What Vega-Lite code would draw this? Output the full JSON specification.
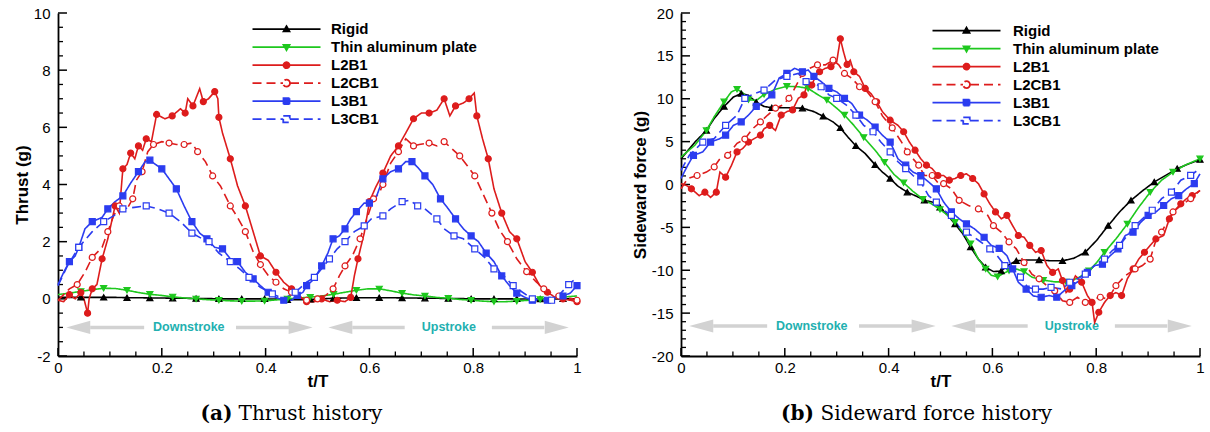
{
 "$schema": "https://vega.github.io/schema/vega-lite/v6.json",
 "background": "white",
 "padding": {"left": 13, "top": 6, "right": 0, "bottom": 0},
 "spacing": 104,
 "bounds": "flush",
 "datasets": {
  "thrust": [
   {"s":"Rigid","t":0,"v":0.05},{"s":"Rigid","t":0.022,"v":0.05},{"s":"Rigid","t":0.044,"v":0.05},{"s":"Rigid","t":0.066,"v":0.05},{"s":"Rigid","t":0.088,"v":0.05},{"s":"Rigid","t":0.111,"v":0.05},{"s":"Rigid","t":0.133,"v":0.04},{"s":"Rigid","t":0.155,"v":0.04},{"s":"Rigid","t":0.177,"v":0.03},{"s":"Rigid","t":0.199,"v":0.03},{"s":"Rigid","t":0.221,"v":0.02},{"s":"Rigid","t":0.244,"v":0.02},{"s":"Rigid","t":0.266,"v":0.01},{"s":"Rigid","t":0.288,"v":0.01},{"s":"Rigid","t":0.31,"v":0},{"s":"Rigid","t":0.332,"v":0},{"s":"Rigid","t":0.354,"v":0},{"s":"Rigid","t":0.376,"v":0},{"s":"Rigid","t":0.398,"v":0},{"s":"Rigid","t":0.42,"v":-0.01},{"s":"Rigid","t":0.442,"v":-0.03},{"s":"Rigid","t":0.464,"v":-0.03},{"s":"Rigid","t":0.486,"v":-0.02},{"s":"Rigid","t":0.508,"v":0},{"s":"Rigid","t":0.531,"v":0.02},{"s":"Rigid","t":0.553,"v":0.03},{"s":"Rigid","t":0.575,"v":0.04},{"s":"Rigid","t":0.597,"v":0.04},{"s":"Rigid","t":0.619,"v":0.04},{"s":"Rigid","t":0.641,"v":0.04},{"s":"Rigid","t":0.663,"v":0.03},{"s":"Rigid","t":0.685,"v":0.03},{"s":"Rigid","t":0.707,"v":0.02},{"s":"Rigid","t":0.729,"v":0.02},{"s":"Rigid","t":0.752,"v":0.01},{"s":"Rigid","t":0.774,"v":0.01},{"s":"Rigid","t":0.796,"v":0},{"s":"Rigid","t":0.818,"v":0},{"s":"Rigid","t":0.84,"v":0},{"s":"Rigid","t":0.862,"v":0},{"s":"Rigid","t":0.884,"v":0},{"s":"Rigid","t":0.906,"v":-0.01},{"s":"Rigid","t":0.929,"v":-0.01},{"s":"Rigid","t":0.951,"v":0},{"s":"Rigid","t":0.973,"v":0},{"s":"Rigid","t":1,"v":0},
   {"s":"Thin aluminum plate","t":0,"v":0.15},{"s":"Thin aluminum plate","t":0.022,"v":0.2},{"s":"Thin aluminum plate","t":0.044,"v":0.26},{"s":"Thin aluminum plate","t":0.066,"v":0.32},{"s":"Thin aluminum plate","t":0.088,"v":0.37},{"s":"Thin aluminum plate","t":0.111,"v":0.36},{"s":"Thin aluminum plate","t":0.133,"v":0.3},{"s":"Thin aluminum plate","t":0.155,"v":0.22},{"s":"Thin aluminum plate","t":0.177,"v":0.16},{"s":"Thin aluminum plate","t":0.199,"v":0.12},{"s":"Thin aluminum plate","t":0.221,"v":0.07},{"s":"Thin aluminum plate","t":0.244,"v":0.03},{"s":"Thin aluminum plate","t":0.266,"v":0},{"s":"Thin aluminum plate","t":0.288,"v":-0.03},{"s":"Thin aluminum plate","t":0.31,"v":-0.05},{"s":"Thin aluminum plate","t":0.332,"v":-0.07},{"s":"Thin aluminum plate","t":0.354,"v":-0.08},{"s":"Thin aluminum plate","t":0.376,"v":-0.08},{"s":"Thin aluminum plate","t":0.398,"v":-0.07},{"s":"Thin aluminum plate","t":0.42,"v":-0.04},{"s":"Thin aluminum plate","t":0.442,"v":0},{"s":"Thin aluminum plate","t":0.464,"v":0.03},{"s":"Thin aluminum plate","t":0.486,"v":0.06},{"s":"Thin aluminum plate","t":0.508,"v":0.1},{"s":"Thin aluminum plate","t":0.531,"v":0.16},{"s":"Thin aluminum plate","t":0.553,"v":0.23},{"s":"Thin aluminum plate","t":0.575,"v":0.3},{"s":"Thin aluminum plate","t":0.597,"v":0.35},{"s":"Thin aluminum plate","t":0.619,"v":0.35},{"s":"Thin aluminum plate","t":0.641,"v":0.28},{"s":"Thin aluminum plate","t":0.663,"v":0.2},{"s":"Thin aluminum plate","t":0.685,"v":0.14},{"s":"Thin aluminum plate","t":0.707,"v":0.1},{"s":"Thin aluminum plate","t":0.729,"v":0.05},{"s":"Thin aluminum plate","t":0.752,"v":0.02},{"s":"Thin aluminum plate","t":0.774,"v":-0.02},{"s":"Thin aluminum plate","t":0.796,"v":-0.05},{"s":"Thin aluminum plate","t":0.818,"v":-0.08},{"s":"Thin aluminum plate","t":0.84,"v":-0.1},{"s":"Thin aluminum plate","t":0.862,"v":-0.1},{"s":"Thin aluminum plate","t":0.884,"v":-0.08},{"s":"Thin aluminum plate","t":0.906,"v":-0.05},{"s":"Thin aluminum plate","t":0.929,"v":-0.02},{"s":"Thin aluminum plate","t":0.951,"v":0.02},{"s":"Thin aluminum plate","t":0.973,"v":0.06},{"s":"Thin aluminum plate","t":1,"v":0.1},
   {"s":"L2B1","t":0,"v":-0.05},{"s":"L2B1","t":0.011,"v":-0.1},{"s":"L2B1","t":0.022,"v":0.15},{"s":"L2B1","t":0.033,"v":0},{"s":"L2B1","t":0.044,"v":0.22},{"s":"L2B1","t":0.05,"v":0},{"s":"L2B1","t":0.057,"v":-0.5},{"s":"L2B1","t":0.06,"v":0},{"s":"L2B1","t":0.066,"v":0.35},{"s":"L2B1","t":0.075,"v":0.5},{"s":"L2B1","t":0.085,"v":1.4},{"s":"L2B1","t":0.096,"v":2.1},{"s":"L2B1","t":0.11,"v":3.25},{"s":"L2B1","t":0.118,"v":3.0},{"s":"L2B1","t":0.125,"v":4.55},{"s":"L2B1","t":0.133,"v":4.7},{"s":"L2B1","t":0.14,"v":5.1},{"s":"L2B1","t":0.148,"v":4.9},{"s":"L2B1","t":0.155,"v":5.35},{"s":"L2B1","t":0.163,"v":5.2},{"s":"L2B1","t":0.17,"v":5.6},{"s":"L2B1","t":0.18,"v":5.5},{"s":"L2B1","t":0.19,"v":6.45},{"s":"L2B1","t":0.206,"v":6.3},{"s":"L2B1","t":0.22,"v":6.4},{"s":"L2B1","t":0.236,"v":6.65},{"s":"L2B1","t":0.245,"v":6.5},{"s":"L2B1","t":0.25,"v":7.0},{"s":"L2B1","t":0.26,"v":6.75},{"s":"L2B1","t":0.273,"v":7.35},{"s":"L2B1","t":0.28,"v":6.9},{"s":"L2B1","t":0.29,"v":7.0},{"s":"L2B1","t":0.302,"v":7.25},{"s":"L2B1","t":0.308,"v":7.0},{"s":"L2B1","t":0.31,"v":6.35},{"s":"L2B1","t":0.317,"v":5.8},{"s":"L2B1","t":0.332,"v":4.9},{"s":"L2B1","t":0.346,"v":3.95},{"s":"L2B1","t":0.361,"v":3.25},{"s":"L2B1","t":0.376,"v":2.35},{"s":"L2B1","t":0.39,"v":1.5},{"s":"L2B1","t":0.405,"v":1.35},{"s":"L2B1","t":0.42,"v":0.93},{"s":"L2B1","t":0.435,"v":0.58},{"s":"L2B1","t":0.45,"v":0.35},{"s":"L2B1","t":0.464,"v":0.12},{"s":"L2B1","t":0.479,"v":-0.1},{"s":"L2B1","t":0.494,"v":-0.1},{"s":"L2B1","t":0.508,"v":0},{"s":"L2B1","t":0.523,"v":-0.1},{"s":"L2B1","t":0.538,"v":-0.05},{"s":"L2B1","t":0.553,"v":-0.1},{"s":"L2B1","t":0.564,"v":0.05},{"s":"L2B1","t":0.571,"v":0.8},{"s":"L2B1","t":0.578,"v":1.4},{"s":"L2B1","t":0.59,"v":2.3},{"s":"L2B1","t":0.6,"v":3.4},{"s":"L2B1","t":0.612,"v":3.9},{"s":"L2B1","t":0.626,"v":4.4},{"s":"L2B1","t":0.641,"v":5.0},{"s":"L2B1","t":0.656,"v":5.35},{"s":"L2B1","t":0.67,"v":5.8},{"s":"L2B1","t":0.685,"v":6.3},{"s":"L2B1","t":0.7,"v":6.5},{"s":"L2B1","t":0.715,"v":6.5},{"s":"L2B1","t":0.73,"v":6.6},{"s":"L2B1","t":0.744,"v":7.0},{"s":"L2B1","t":0.755,"v":6.4},{"s":"L2B1","t":0.766,"v":6.75},{"s":"L2B1","t":0.781,"v":6.85},{"s":"L2B1","t":0.792,"v":7.0},{"s":"L2B1","t":0.802,"v":7.2},{"s":"L2B1","t":0.807,"v":6.4},{"s":"L2B1","t":0.818,"v":5.6},{"s":"L2B1","t":0.829,"v":4.9},{"s":"L2B1","t":0.84,"v":3.85},{"s":"L2B1","t":0.855,"v":3.0},{"s":"L2B1","t":0.87,"v":2.35},{"s":"L2B1","t":0.884,"v":2.1},{"s":"L2B1","t":0.9,"v":1.3},{"s":"L2B1","t":0.914,"v":0.93},{"s":"L2B1","t":0.928,"v":0.47},{"s":"L2B1","t":0.943,"v":0.23},{"s":"L2B1","t":0.958,"v":0.05},{"s":"L2B1","t":0.973,"v":0},{"s":"L2B1","t":0.987,"v":-0.05},{"s":"L2B1","t":1,"v":-0.1},
   {"s":"L2CB1","t":0,"v":-0.05},{"s":"L2CB1","t":0.022,"v":0.35},{"s":"L2CB1","t":0.037,"v":0.5},{"s":"L2CB1","t":0.052,"v":0.93},{"s":"L2CB1","t":0.066,"v":1.45},{"s":"L2CB1","t":0.085,"v":1.8},{"s":"L2CB1","t":0.096,"v":2.35},{"s":"L2CB1","t":0.107,"v":2.9},{"s":"L2CB1","t":0.118,"v":3.25},{"s":"L2CB1","t":0.133,"v":3.15},{"s":"L2CB1","t":0.144,"v":3.5},{"s":"L2CB1","t":0.151,"v":4.15},{"s":"L2CB1","t":0.162,"v":4.45},{"s":"L2CB1","t":0.173,"v":5.15},{"s":"L2CB1","t":0.184,"v":5.4},{"s":"L2CB1","t":0.2,"v":5.5},{"s":"L2CB1","t":0.214,"v":5.45},{"s":"L2CB1","t":0.228,"v":5.4},{"s":"L2CB1","t":0.243,"v":5.4},{"s":"L2CB1","t":0.258,"v":5.45},{"s":"L2CB1","t":0.269,"v":5.15},{"s":"L2CB1","t":0.284,"v":4.8},{"s":"L2CB1","t":0.298,"v":4.3},{"s":"L2CB1","t":0.313,"v":3.95},{"s":"L2CB1","t":0.332,"v":3.25},{"s":"L2CB1","t":0.346,"v":2.85},{"s":"L2CB1","t":0.361,"v":2.35},{"s":"L2CB1","t":0.376,"v":1.65},{"s":"L2CB1","t":0.39,"v":1.2},{"s":"L2CB1","t":0.405,"v":0.82},{"s":"L2CB1","t":0.42,"v":0.58},{"s":"L2CB1","t":0.435,"v":0.35},{"s":"L2CB1","t":0.45,"v":0.23},{"s":"L2CB1","t":0.464,"v":0.05},{"s":"L2CB1","t":0.479,"v":-0.05},{"s":"L2CB1","t":0.49,"v":-0.1},{"s":"L2CB1","t":0.5,"v":0},{"s":"L2CB1","t":0.516,"v":0.12},{"s":"L2CB1","t":0.53,"v":0.35},{"s":"L2CB1","t":0.542,"v":0.8},{"s":"L2CB1","t":0.553,"v":1.15},{"s":"L2CB1","t":0.567,"v":1.5},{"s":"L2CB1","t":0.582,"v":2.1},{"s":"L2CB1","t":0.597,"v":2.9},{"s":"L2CB1","t":0.608,"v":3.5},{"s":"L2CB1","t":0.619,"v":3.7},{"s":"L2CB1","t":0.626,"v":4.0},{"s":"L2CB1","t":0.641,"v":4.75},{"s":"L2CB1","t":0.656,"v":5.15},{"s":"L2CB1","t":0.67,"v":5.6},{"s":"L2CB1","t":0.685,"v":5.35},{"s":"L2CB1","t":0.696,"v":5.4},{"s":"L2CB1","t":0.715,"v":5.45},{"s":"L2CB1","t":0.73,"v":5.35},{"s":"L2CB1","t":0.744,"v":5.5},{"s":"L2CB1","t":0.759,"v":5.25},{"s":"L2CB1","t":0.774,"v":5.0},{"s":"L2CB1","t":0.789,"v":4.65},{"s":"L2CB1","t":0.803,"v":4.3},{"s":"L2CB1","t":0.822,"v":3.55},{"s":"L2CB1","t":0.836,"v":3.0},{"s":"L2CB1","t":0.851,"v":2.4},{"s":"L2CB1","t":0.866,"v":2.0},{"s":"L2CB1","t":0.884,"v":1.4},{"s":"L2CB1","t":0.903,"v":0.95},{"s":"L2CB1","t":0.921,"v":0.6},{"s":"L2CB1","t":0.936,"v":0.35},{"s":"L2CB1","t":0.951,"v":0.2},{"s":"L2CB1","t":0.965,"v":0.1},{"s":"L2CB1","t":0.98,"v":0.05},{"s":"L2CB1","t":1,"v":-0.05},
   {"s":"L3B1","t":0,"v":0.5},{"s":"L3B1","t":0.011,"v":0.93},{"s":"L3B1","t":0.022,"v":1.3},{"s":"L3B1","t":0.033,"v":1.5},{"s":"L3B1","t":0.04,"v":1.8},{"s":"L3B1","t":0.052,"v":2.45},{"s":"L3B1","t":0.066,"v":2.7},{"s":"L3B1","t":0.085,"v":2.85},{"s":"L3B1","t":0.096,"v":3.15},{"s":"L3B1","t":0.11,"v":3.4},{"s":"L3B1","t":0.125,"v":3.6},{"s":"L3B1","t":0.14,"v":4.05},{"s":"L3B1","t":0.155,"v":4.45},{"s":"L3B1","t":0.168,"v":4.8},{"s":"L3B1","t":0.177,"v":4.85},{"s":"L3B1","t":0.188,"v":4.7},{"s":"L3B1","t":0.2,"v":4.55},{"s":"L3B1","t":0.214,"v":4.2},{"s":"L3B1","t":0.228,"v":3.85},{"s":"L3B1","t":0.243,"v":3.25},{"s":"L3B1","t":0.258,"v":2.7},{"s":"L3B1","t":0.273,"v":2.3},{"s":"L3B1","t":0.287,"v":2.1},{"s":"L3B1","t":0.302,"v":1.8},{"s":"L3B1","t":0.317,"v":1.75},{"s":"L3B1","t":0.332,"v":1.4},{"s":"L3B1","t":0.346,"v":1.3},{"s":"L3B1","t":0.361,"v":0.93},{"s":"L3B1","t":0.376,"v":0.7},{"s":"L3B1","t":0.39,"v":0.46},{"s":"L3B1","t":0.405,"v":0.23},{"s":"L3B1","t":0.42,"v":0.05},{"s":"L3B1","t":0.435,"v":-0.05},{"s":"L3B1","t":0.45,"v":-0.05},{"s":"L3B1","t":0.461,"v":0.12},{"s":"L3B1","t":0.472,"v":0.23},{"s":"L3B1","t":0.479,"v":0.46},{"s":"L3B1","t":0.494,"v":0.7},{"s":"L3B1","t":0.508,"v":1.15},{"s":"L3B1","t":0.52,"v":1.6},{"s":"L3B1","t":0.53,"v":2.1},{"s":"L3B1","t":0.542,"v":2.2},{"s":"L3B1","t":0.553,"v":2.45},{"s":"L3B1","t":0.564,"v":2.8},{"s":"L3B1","t":0.575,"v":3.05},{"s":"L3B1","t":0.59,"v":3.35},{"s":"L3B1","t":0.6,"v":3.35},{"s":"L3B1","t":0.612,"v":3.5},{"s":"L3B1","t":0.626,"v":4.2},{"s":"L3B1","t":0.641,"v":4.45},{"s":"L3B1","t":0.656,"v":4.55},{"s":"L3B1","t":0.67,"v":4.8},{"s":"L3B1","t":0.682,"v":4.8},{"s":"L3B1","t":0.693,"v":4.6},{"s":"L3B1","t":0.707,"v":4.3},{"s":"L3B1","t":0.722,"v":4.0},{"s":"L3B1","t":0.737,"v":3.5},{"s":"L3B1","t":0.752,"v":3.15},{"s":"L3B1","t":0.766,"v":2.8},{"s":"L3B1","t":0.781,"v":2.45},{"s":"L3B1","t":0.796,"v":2.2},{"s":"L3B1","t":0.81,"v":2.0},{"s":"L3B1","t":0.825,"v":1.6},{"s":"L3B1","t":0.84,"v":1.3},{"s":"L3B1","t":0.855,"v":0.8},{"s":"L3B1","t":0.87,"v":0.46},{"s":"L3B1","t":0.884,"v":0.2},{"s":"L3B1","t":0.9,"v":0.05},{"s":"L3B1","t":0.914,"v":-0.05},{"s":"L3B1","t":0.928,"v":-0.05},{"s":"L3B1","t":0.943,"v":-0.05},{"s":"L3B1","t":0.958,"v":0.05},{"s":"L3B1","t":0.973,"v":0.1},{"s":"L3B1","t":0.987,"v":0.2},{"s":"L3B1","t":1,"v":0.46},
   {"s":"L3CB1","t":0,"v":0.46},{"s":"L3CB1","t":0.018,"v":1.15},{"s":"L3CB1","t":0.04,"v":1.8},{"s":"L3CB1","t":0.066,"v":2.35},{"s":"L3CB1","t":0.088,"v":2.7},{"s":"L3CB1","t":0.107,"v":2.9},{"s":"L3CB1","t":0.125,"v":3.15},{"s":"L3CB1","t":0.147,"v":3.2},{"s":"L3CB1","t":0.17,"v":3.25},{"s":"L3CB1","t":0.192,"v":3.15},{"s":"L3CB1","t":0.214,"v":3.0},{"s":"L3CB1","t":0.236,"v":2.7},{"s":"L3CB1","t":0.258,"v":2.3},{"s":"L3CB1","t":0.273,"v":2.15},{"s":"L3CB1","t":0.291,"v":2.0},{"s":"L3CB1","t":0.31,"v":1.6},{"s":"L3CB1","t":0.332,"v":1.3},{"s":"L3CB1","t":0.35,"v":1.05},{"s":"L3CB1","t":0.368,"v":0.75},{"s":"L3CB1","t":0.39,"v":0.4},{"s":"L3CB1","t":0.413,"v":0.17},{"s":"L3CB1","t":0.435,"v":0},{"s":"L3CB1","t":0.457,"v":0.23},{"s":"L3CB1","t":0.479,"v":0.58},{"s":"L3CB1","t":0.494,"v":0.75},{"s":"L3CB1","t":0.508,"v":1.05},{"s":"L3CB1","t":0.523,"v":1.4},{"s":"L3CB1","t":0.538,"v":1.75},{"s":"L3CB1","t":0.553,"v":2.0},{"s":"L3CB1","t":0.571,"v":2.35},{"s":"L3CB1","t":0.59,"v":2.55},{"s":"L3CB1","t":0.604,"v":2.8},{"s":"L3CB1","t":0.626,"v":2.9},{"s":"L3CB1","t":0.641,"v":3.15},{"s":"L3CB1","t":0.663,"v":3.4},{"s":"L3CB1","t":0.678,"v":3.45},{"s":"L3CB1","t":0.693,"v":3.25},{"s":"L3CB1","t":0.707,"v":3.15},{"s":"L3CB1","t":0.73,"v":2.8},{"s":"L3CB1","t":0.744,"v":2.45},{"s":"L3CB1","t":0.763,"v":2.2},{"s":"L3CB1","t":0.781,"v":2.1},{"s":"L3CB1","t":0.803,"v":1.75},{"s":"L3CB1","t":0.822,"v":1.45},{"s":"L3CB1","t":0.84,"v":1.05},{"s":"L3CB1","t":0.859,"v":0.8},{"s":"L3CB1","t":0.877,"v":0.46},{"s":"L3CB1","t":0.895,"v":0.23},{"s":"L3CB1","t":0.914,"v":0},{"s":"L3CB1","t":0.936,"v":-0.05},{"s":"L3CB1","t":0.951,"v":-0.05},{"s":"L3CB1","t":0.965,"v":0.12},{"s":"L3CB1","t":0.984,"v":0.5},{"s":"L3CB1","t":1,"v":0.75}
  ],
  "side": [
   {"s":"Rigid","t":0,"v":3.0},{"s":"Rigid","t":0.027,"v":4.96},{"s":"Rigid","t":0.049,"v":6.3},{"s":"Rigid","t":0.064,"v":7.7},{"s":"Rigid","t":0.083,"v":9.1},{"s":"Rigid","t":0.101,"v":10.2},{"s":"Rigid","t":0.116,"v":10.6},{"s":"Rigid","t":0.13,"v":10.4},{"s":"Rigid","t":0.145,"v":9.6},{"s":"Rigid","t":0.16,"v":9.1},{"s":"Rigid","t":0.175,"v":8.95},{"s":"Rigid","t":0.204,"v":8.95},{"s":"Rigid","t":0.234,"v":8.9},{"s":"Rigid","t":0.256,"v":8.5},{"s":"Rigid","t":0.274,"v":7.95},{"s":"Rigid","t":0.293,"v":7.3},{"s":"Rigid","t":0.307,"v":6.6},{"s":"Rigid","t":0.322,"v":5.5},{"s":"Rigid","t":0.337,"v":4.5},{"s":"Rigid","t":0.355,"v":3.6},{"s":"Rigid","t":0.374,"v":2.3},{"s":"Rigid","t":0.388,"v":1.45},{"s":"Rigid","t":0.403,"v":0.7},{"s":"Rigid","t":0.418,"v":-0.2},{"s":"Rigid","t":0.436,"v":-0.9},{"s":"Rigid","t":0.455,"v":-1.4},{"s":"Rigid","t":0.469,"v":-1.85},{"s":"Rigid","t":0.488,"v":-2.1},{"s":"Rigid","t":0.499,"v":-2.65},{"s":"Rigid","t":0.514,"v":-3.6},{"s":"Rigid","t":0.528,"v":-4.6},{"s":"Rigid","t":0.543,"v":-5.75},{"s":"Rigid","t":0.558,"v":-7.3},{"s":"Rigid","t":0.573,"v":-8.7},{"s":"Rigid","t":0.587,"v":-9.65},{"s":"Rigid","t":0.602,"v":-10.15},{"s":"Rigid","t":0.617,"v":-10.1},{"s":"Rigid","t":0.628,"v":-9.5},{"s":"Rigid","t":0.646,"v":-8.9},{"s":"Rigid","t":0.668,"v":-8.8},{"s":"Rigid","t":0.69,"v":-8.8},{"s":"Rigid","t":0.713,"v":-8.9},{"s":"Rigid","t":0.735,"v":-8.9},{"s":"Rigid","t":0.757,"v":-8.6},{"s":"Rigid","t":0.779,"v":-7.9},{"s":"Rigid","t":0.801,"v":-6.5},{"s":"Rigid","t":0.823,"v":-4.8},{"s":"Rigid","t":0.845,"v":-3.2},{"s":"Rigid","t":0.867,"v":-1.85},{"s":"Rigid","t":0.89,"v":-0.7},{"s":"Rigid","t":0.912,"v":0.3},{"s":"Rigid","t":0.934,"v":1.07},{"s":"Rigid","t":0.956,"v":1.85},{"s":"Rigid","t":0.978,"v":2.4},{"s":"Rigid","t":1,"v":2.9},
   {"s":"Thin aluminum plate","t":0,"v":3.2},{"s":"Thin aluminum plate","t":0.027,"v":4.6},{"s":"Thin aluminum plate","t":0.049,"v":6.3},{"s":"Thin aluminum plate","t":0.064,"v":7.9},{"s":"Thin aluminum plate","t":0.083,"v":9.65},{"s":"Thin aluminum plate","t":0.097,"v":10.8},{"s":"Thin aluminum plate","t":0.108,"v":11.1},{"s":"Thin aluminum plate","t":0.119,"v":10.7},{"s":"Thin aluminum plate","t":0.13,"v":9.9},{"s":"Thin aluminum plate","t":0.145,"v":9.8},{"s":"Thin aluminum plate","t":0.16,"v":10.5},{"s":"Thin aluminum plate","t":0.182,"v":11.1},{"s":"Thin aluminum plate","t":0.204,"v":11.45},{"s":"Thin aluminum plate","t":0.226,"v":11.4},{"s":"Thin aluminum plate","t":0.245,"v":11.2},{"s":"Thin aluminum plate","t":0.263,"v":10.5},{"s":"Thin aluminum plate","t":0.281,"v":9.85},{"s":"Thin aluminum plate","t":0.3,"v":8.9},{"s":"Thin aluminum plate","t":0.315,"v":8.1},{"s":"Thin aluminum plate","t":0.333,"v":6.9},{"s":"Thin aluminum plate","t":0.352,"v":5.5},{"s":"Thin aluminum plate","t":0.374,"v":4.0},{"s":"Thin aluminum plate","t":0.392,"v":2.6},{"s":"Thin aluminum plate","t":0.41,"v":1.2},{"s":"Thin aluminum plate","t":0.429,"v":0.2},{"s":"Thin aluminum plate","t":0.447,"v":-0.8},{"s":"Thin aluminum plate","t":0.466,"v":-1.7},{"s":"Thin aluminum plate","t":0.484,"v":-2.3},{"s":"Thin aluminum plate","t":0.499,"v":-2.9},{"s":"Thin aluminum plate","t":0.514,"v":-3.6},{"s":"Thin aluminum plate","t":0.528,"v":-4.4},{"s":"Thin aluminum plate","t":0.543,"v":-5.55},{"s":"Thin aluminum plate","t":0.558,"v":-6.9},{"s":"Thin aluminum plate","t":0.573,"v":-8.7},{"s":"Thin aluminum plate","t":0.587,"v":-9.85},{"s":"Thin aluminum plate","t":0.598,"v":-10.6},{"s":"Thin aluminum plate","t":0.61,"v":-10.75},{"s":"Thin aluminum plate","t":0.62,"v":-10.4},{"s":"Thin aluminum plate","t":0.632,"v":-10.05},{"s":"Thin aluminum plate","t":0.646,"v":-9.85},{"s":"Thin aluminum plate","t":0.661,"v":-10.15},{"s":"Thin aluminum plate","t":0.676,"v":-10.8},{"s":"Thin aluminum plate","t":0.698,"v":-11.15},{"s":"Thin aluminum plate","t":0.72,"v":-11.35},{"s":"Thin aluminum plate","t":0.742,"v":-11.35},{"s":"Thin aluminum plate","t":0.764,"v":-10.95},{"s":"Thin aluminum plate","t":0.786,"v":-10.05},{"s":"Thin aluminum plate","t":0.801,"v":-9.1},{"s":"Thin aluminum plate","t":0.816,"v":-7.9},{"s":"Thin aluminum plate","t":0.838,"v":-6.35},{"s":"Thin aluminum plate","t":0.86,"v":-4.6},{"s":"Thin aluminum plate","t":0.882,"v":-2.65},{"s":"Thin aluminum plate","t":0.904,"v":-0.9},{"s":"Thin aluminum plate","t":0.926,"v":0.5},{"s":"Thin aluminum plate","t":0.948,"v":1.45},{"s":"Thin aluminum plate","t":0.971,"v":2.25},{"s":"Thin aluminum plate","t":1,"v":3.0},
   {"s":"L2B1","t":0,"v":0.1},{"s":"L2B1","t":0.01,"v":-0.1},{"s":"L2B1","t":0.02,"v":-0.5},{"s":"L2B1","t":0.035,"v":-1.3},{"s":"L2B1","t":0.046,"v":-0.9},{"s":"L2B1","t":0.057,"v":-1.5},{"s":"L2B1","t":0.068,"v":-0.9},{"s":"L2B1","t":0.075,"v":1.45},{"s":"L2B1","t":0.086,"v":0.85},{"s":"L2B1","t":0.097,"v":2.2},{"s":"L2B1","t":0.108,"v":3.8},{"s":"L2B1","t":0.119,"v":4.2},{"s":"L2B1","t":0.13,"v":4.95},{"s":"L2B1","t":0.141,"v":5.35},{"s":"L2B1","t":0.153,"v":5.75},{"s":"L2B1","t":0.16,"v":6.5},{"s":"L2B1","t":0.171,"v":6.9},{"s":"L2B1","t":0.182,"v":6.3},{"s":"L2B1","t":0.193,"v":8.1},{"s":"L2B1","t":0.204,"v":8.5},{"s":"L2B1","t":0.215,"v":8.7},{"s":"L2B1","t":0.226,"v":10.05},{"s":"L2B1","t":0.237,"v":10.45},{"s":"L2B1","t":0.245,"v":12.0},{"s":"L2B1","t":0.252,"v":11.6},{"s":"L2B1","t":0.259,"v":12.6},{"s":"L2B1","t":0.267,"v":13.15},{"s":"L2B1","t":0.278,"v":13.55},{"s":"L2B1","t":0.289,"v":13.75},{"s":"L2B1","t":0.3,"v":14.3},{"s":"L2B1","t":0.307,"v":17.0},{"s":"L2B1","t":0.313,"v":15.5},{"s":"L2B1","t":0.32,"v":14.0},{"s":"L2B1","t":0.326,"v":14.5},{"s":"L2B1","t":0.333,"v":13.15},{"s":"L2B1","t":0.344,"v":12.6},{"s":"L2B1","t":0.355,"v":11.2},{"s":"L2B1","t":0.366,"v":10.6},{"s":"L2B1","t":0.377,"v":9.65},{"s":"L2B1","t":0.388,"v":8.5},{"s":"L2B1","t":0.403,"v":7.5},{"s":"L2B1","t":0.418,"v":6.9},{"s":"L2B1","t":0.429,"v":6.15},{"s":"L2B1","t":0.44,"v":4.95},{"s":"L2B1","t":0.451,"v":4.0},{"s":"L2B1","t":0.462,"v":3.0},{"s":"L2B1","t":0.473,"v":2.25},{"s":"L2B1","t":0.484,"v":1.85},{"s":"L2B1","t":0.495,"v":1.05},{"s":"L2B1","t":0.506,"v":1.05},{"s":"L2B1","t":0.517,"v":0.5},{"s":"L2B1","t":0.528,"v":0.7},{"s":"L2B1","t":0.539,"v":1.05},{"s":"L2B1","t":0.55,"v":1.25},{"s":"L2B1","t":0.562,"v":0.7},{"s":"L2B1","t":0.573,"v":0.1},{"s":"L2B1","t":0.584,"v":-1.1},{"s":"L2B1","t":0.595,"v":-2.25},{"s":"L2B1","t":0.606,"v":-3.2},{"s":"L2B1","t":0.617,"v":-4.0},{"s":"L2B1","t":0.628,"v":-3.6},{"s":"L2B1","t":0.639,"v":-4.8},{"s":"L2B1","t":0.65,"v":-5.95},{"s":"L2B1","t":0.661,"v":-6.15},{"s":"L2B1","t":0.672,"v":-7.1},{"s":"L2B1","t":0.683,"v":-7.9},{"s":"L2B1","t":0.694,"v":-7.7},{"s":"L2B1","t":0.705,"v":-9.45},{"s":"L2B1","t":0.716,"v":-10.25},{"s":"L2B1","t":0.727,"v":-9.85},{"s":"L2B1","t":0.735,"v":-11.2},{"s":"L2B1","t":0.742,"v":-12.6},{"s":"L2B1","t":0.749,"v":-12.2},{"s":"L2B1","t":0.76,"v":-10.65},{"s":"L2B1","t":0.772,"v":-11.4},{"s":"L2B1","t":0.783,"v":-12.95},{"s":"L2B1","t":0.792,"v":-13.75},{"s":"L2B1","t":0.797,"v":-16.1},{"s":"L2B1","t":0.805,"v":-14.9},{"s":"L2B1","t":0.816,"v":-13.75},{"s":"L2B1","t":0.827,"v":-12.95},{"s":"L2B1","t":0.838,"v":-12.6},{"s":"L2B1","t":0.849,"v":-12.95},{"s":"L2B1","t":0.86,"v":-11.0},{"s":"L2B1","t":0.871,"v":-9.85},{"s":"L2B1","t":0.882,"v":-8.7},{"s":"L2B1","t":0.893,"v":-7.9},{"s":"L2B1","t":0.904,"v":-7.1},{"s":"L2B1","t":0.915,"v":-6.35},{"s":"L2B1","t":0.93,"v":-5.95},{"s":"L2B1","t":0.941,"v":-4.0},{"s":"L2B1","t":0.952,"v":-3.0},{"s":"L2B1","t":0.963,"v":-2.25},{"s":"L2B1","t":0.974,"v":-1.65},{"s":"L2B1","t":0.985,"v":-1.3},{"s":"L2B1","t":1,"v":-0.7},
   {"s":"L2CB1","t":0,"v":-0.5},{"s":"L2CB1","t":0.013,"v":0.7},{"s":"L2CB1","t":0.031,"v":1.05},{"s":"L2CB1","t":0.049,"v":1.45},{"s":"L2CB1","t":0.064,"v":2.05},{"s":"L2CB1","t":0.075,"v":3.0},{"s":"L2CB1","t":0.09,"v":3.4},{"s":"L2CB1","t":0.108,"v":4.8},{"s":"L2CB1","t":0.123,"v":5.3},{"s":"L2CB1","t":0.138,"v":6.5},{"s":"L2CB1","t":0.153,"v":7.3},{"s":"L2CB1","t":0.167,"v":8.1},{"s":"L2CB1","t":0.182,"v":8.9},{"s":"L2CB1","t":0.197,"v":9.3},{"s":"L2CB1","t":0.208,"v":10.05},{"s":"L2CB1","t":0.219,"v":11.2},{"s":"L2CB1","t":0.234,"v":12.95},{"s":"L2CB1","t":0.248,"v":13.55},{"s":"L2CB1","t":0.263,"v":13.95},{"s":"L2CB1","t":0.278,"v":13.95},{"s":"L2CB1","t":0.293,"v":14.5},{"s":"L2CB1","t":0.304,"v":13.95},{"s":"L2CB1","t":0.315,"v":12.95},{"s":"L2CB1","t":0.329,"v":12.4},{"s":"L2CB1","t":0.344,"v":11.4},{"s":"L2CB1","t":0.359,"v":10.8},{"s":"L2CB1","t":0.374,"v":9.65},{"s":"L2CB1","t":0.388,"v":8.0},{"s":"L2CB1","t":0.407,"v":6.6},{"s":"L2CB1","t":0.425,"v":4.95},{"s":"L2CB1","t":0.436,"v":3.8},{"s":"L2CB1","t":0.447,"v":3.0},{"s":"L2CB1","t":0.458,"v":2.25},{"s":"L2CB1","t":0.469,"v":1.05},{"s":"L2CB1","t":0.484,"v":1.05},{"s":"L2CB1","t":0.495,"v":0.2},{"s":"L2CB1","t":0.506,"v":0.1},{"s":"L2CB1","t":0.521,"v":-0.5},{"s":"L2CB1","t":0.536,"v":-1.85},{"s":"L2CB1","t":0.554,"v":-2.45},{"s":"L2CB1","t":0.573,"v":-2.85},{"s":"L2CB1","t":0.591,"v":-3.6},{"s":"L2CB1","t":0.602,"v":-4.8},{"s":"L2CB1","t":0.617,"v":-5.55},{"s":"L2CB1","t":0.632,"v":-6.7},{"s":"L2CB1","t":0.646,"v":-7.5},{"s":"L2CB1","t":0.661,"v":-9.1},{"s":"L2CB1","t":0.676,"v":-10.45},{"s":"L2CB1","t":0.69,"v":-11.0},{"s":"L2CB1","t":0.705,"v":-11.8},{"s":"L2CB1","t":0.72,"v":-12.4},{"s":"L2CB1","t":0.735,"v":-13.55},{"s":"L2CB1","t":0.749,"v":-13.75},{"s":"L2CB1","t":0.764,"v":-13.15},{"s":"L2CB1","t":0.779,"v":-13.75},{"s":"L2CB1","t":0.794,"v":-13.35},{"s":"L2CB1","t":0.808,"v":-13.15},{"s":"L2CB1","t":0.823,"v":-13.35},{"s":"L2CB1","t":0.838,"v":-11.8},{"s":"L2CB1","t":0.856,"v":-10.65},{"s":"L2CB1","t":0.875,"v":-9.85},{"s":"L2CB1","t":0.889,"v":-9.45},{"s":"L2CB1","t":0.904,"v":-8.7},{"s":"L2CB1","t":0.915,"v":-6.5},{"s":"L2CB1","t":0.926,"v":-5.55},{"s":"L2CB1","t":0.937,"v":-4.3},{"s":"L2CB1","t":0.948,"v":-3.2},{"s":"L2CB1","t":0.963,"v":-2.45},{"s":"L2CB1","t":0.982,"v":-1.65},{"s":"L2CB1","t":1,"v":-0.7},
   {"s":"L3B1","t":0,"v":0.7},{"s":"L3B1","t":0.013,"v":2.25},{"s":"L3B1","t":0.024,"v":3.4},{"s":"L3B1","t":0.042,"v":3.8},{"s":"L3B1","t":0.057,"v":4.95},{"s":"L3B1","t":0.075,"v":5.35},{"s":"L3B1","t":0.086,"v":5.75},{"s":"L3B1","t":0.101,"v":6.9},{"s":"L3B1","t":0.116,"v":7.3},{"s":"L3B1","t":0.13,"v":8.1},{"s":"L3B1","t":0.145,"v":9.1},{"s":"L3B1","t":0.16,"v":9.65},{"s":"L3B1","t":0.175,"v":10.45},{"s":"L3B1","t":0.189,"v":12.4},{"s":"L3B1","t":0.204,"v":12.95},{"s":"L3B1","t":0.219,"v":13.55},{"s":"L3B1","t":0.234,"v":13.15},{"s":"L3B1","t":0.245,"v":13.35},{"s":"L3B1","t":0.256,"v":12.6},{"s":"L3B1","t":0.27,"v":12.0},{"s":"L3B1","t":0.285,"v":11.2},{"s":"L3B1","t":0.3,"v":10.8},{"s":"L3B1","t":0.315,"v":10.05},{"s":"L3B1","t":0.329,"v":9.45},{"s":"L3B1","t":0.344,"v":8.1},{"s":"L3B1","t":0.359,"v":7.5},{"s":"L3B1","t":0.374,"v":6.7},{"s":"L3B1","t":0.388,"v":5.75},{"s":"L3B1","t":0.403,"v":4.95},{"s":"L3B1","t":0.418,"v":3.0},{"s":"L3B1","t":0.433,"v":2.25},{"s":"L3B1","t":0.447,"v":1.45},{"s":"L3B1","t":0.462,"v":1.05},{"s":"L3B1","t":0.477,"v":0.3},{"s":"L3B1","t":0.492,"v":-0.5},{"s":"L3B1","t":0.506,"v":-2.05},{"s":"L3B1","t":0.521,"v":-3.2},{"s":"L3B1","t":0.536,"v":-4.0},{"s":"L3B1","t":0.55,"v":-4.6},{"s":"L3B1","t":0.565,"v":-5.15},{"s":"L3B1","t":0.584,"v":-6.15},{"s":"L3B1","t":0.598,"v":-7.1},{"s":"L3B1","t":0.613,"v":-7.45},{"s":"L3B1","t":0.628,"v":-8.3},{"s":"L3B1","t":0.639,"v":-9.85},{"s":"L3B1","t":0.65,"v":-11.4},{"s":"L3B1","t":0.665,"v":-12.2},{"s":"L3B1","t":0.679,"v":-13.0},{"s":"L3B1","t":0.694,"v":-13.15},{"s":"L3B1","t":0.709,"v":-12.95},{"s":"L3B1","t":0.724,"v":-13.15},{"s":"L3B1","t":0.738,"v":-12.4},{"s":"L3B1","t":0.753,"v":-11.8},{"s":"L3B1","t":0.768,"v":-11.2},{"s":"L3B1","t":0.783,"v":-10.25},{"s":"L3B1","t":0.797,"v":-9.45},{"s":"L3B1","t":0.812,"v":-9.3},{"s":"L3B1","t":0.827,"v":-8.3},{"s":"L3B1","t":0.842,"v":-7.5},{"s":"L3B1","t":0.856,"v":-5.95},{"s":"L3B1","t":0.871,"v":-5.55},{"s":"L3B1","t":0.886,"v":-4.4},{"s":"L3B1","t":0.9,"v":-3.6},{"s":"L3B1","t":0.915,"v":-3.2},{"s":"L3B1","t":0.93,"v":-2.45},{"s":"L3B1","t":0.945,"v":-1.65},{"s":"L3B1","t":0.959,"v":-1.3},{"s":"L3B1","t":0.974,"v":-0.5},{"s":"L3B1","t":0.989,"v":0.1},{"s":"L3B1","t":1,"v":1.25},
   {"s":"L3CB1","t":0,"v":1.65},{"s":"L3CB1","t":0.016,"v":3.4},{"s":"L3CB1","t":0.042,"v":4.95},{"s":"L3CB1","t":0.064,"v":5.35},{"s":"L3CB1","t":0.086,"v":6.9},{"s":"L3CB1","t":0.108,"v":8.1},{"s":"L3CB1","t":0.123,"v":10.05},{"s":"L3CB1","t":0.141,"v":10.6},{"s":"L3CB1","t":0.16,"v":11.0},{"s":"L3CB1","t":0.182,"v":12.2},{"s":"L3CB1","t":0.204,"v":12.6},{"s":"L3CB1","t":0.226,"v":12.95},{"s":"L3CB1","t":0.241,"v":12.0},{"s":"L3CB1","t":0.256,"v":11.8},{"s":"L3CB1","t":0.27,"v":11.4},{"s":"L3CB1","t":0.285,"v":10.45},{"s":"L3CB1","t":0.3,"v":10.05},{"s":"L3CB1","t":0.318,"v":9.3},{"s":"L3CB1","t":0.337,"v":8.1},{"s":"L3CB1","t":0.352,"v":6.9},{"s":"L3CB1","t":0.37,"v":6.15},{"s":"L3CB1","t":0.385,"v":4.95},{"s":"L3CB1","t":0.403,"v":3.8},{"s":"L3CB1","t":0.418,"v":2.65},{"s":"L3CB1","t":0.433,"v":1.85},{"s":"L3CB1","t":0.447,"v":1.05},{"s":"L3CB1","t":0.462,"v":0.3},{"s":"L3CB1","t":0.477,"v":-1.3},{"s":"L3CB1","t":0.492,"v":-2.05},{"s":"L3CB1","t":0.506,"v":-3.0},{"s":"L3CB1","t":0.521,"v":-3.6},{"s":"L3CB1","t":0.536,"v":-4.95},{"s":"L3CB1","t":0.55,"v":-5.55},{"s":"L3CB1","t":0.573,"v":-6.5},{"s":"L3CB1","t":0.595,"v":-7.5},{"s":"L3CB1","t":0.609,"v":-8.3},{"s":"L3CB1","t":0.624,"v":-9.45},{"s":"L3CB1","t":0.639,"v":-9.65},{"s":"L3CB1","t":0.654,"v":-10.8},{"s":"L3CB1","t":0.668,"v":-12.0},{"s":"L3CB1","t":0.683,"v":-12.2},{"s":"L3CB1","t":0.698,"v":-12.2},{"s":"L3CB1","t":0.713,"v":-12.0},{"s":"L3CB1","t":0.735,"v":-12.2},{"s":"L3CB1","t":0.749,"v":-11.4},{"s":"L3CB1","t":0.764,"v":-11.0},{"s":"L3CB1","t":0.779,"v":-10.45},{"s":"L3CB1","t":0.797,"v":-9.45},{"s":"L3CB1","t":0.816,"v":-8.7},{"s":"L3CB1","t":0.831,"v":-7.7},{"s":"L3CB1","t":0.845,"v":-7.1},{"s":"L3CB1","t":0.86,"v":-5.95},{"s":"L3CB1","t":0.875,"v":-4.8},{"s":"L3CB1","t":0.889,"v":-4.0},{"s":"L3CB1","t":0.908,"v":-3.0},{"s":"L3CB1","t":0.926,"v":-1.65},{"s":"L3CB1","t":0.945,"v":-0.9},{"s":"L3CB1","t":0.963,"v":0.5},{"s":"L3CB1","t":0.982,"v":1.07},{"s":"L3CB1","t":1,"v":1.85}
  ],
  "shafts": [{"t":0.062,"t2":0.166},{"t":0.343,"t2":0.445},{"t":0.567,"t2":0.668},{"t":0.836,"t2":0.937}],
  "heads": [{"t":0.039,"dir":"L"},{"t":0.4675,"dir":"R"},{"t":0.544,"dir":"L"},{"t":0.961,"dir":"R"}],
  "notes": [{"t":0.252,"label":"Downstroke"},{"t":0.753,"label":"Upstroke"}],
  "xmaj": [{"t":0},{"t":0.2},{"t":0.4},{"t":0.6},{"t":0.8},{"t":1}],
  "xmin": [{"t":0.05},{"t":0.1},{"t":0.15},{"t":0.25},{"t":0.3},{"t":0.35},{"t":0.45},{"t":0.5},{"t":0.55},{"t":0.65},{"t":0.7},{"t":0.75},{"t":0.85},{"t":0.9},{"t":0.95}],
  "ymajA": [{"v":-2},{"v":0},{"v":2},{"v":4},{"v":6},{"v":8},{"v":10}],
  "yminA": [{"v":-1.5},{"v":-1},{"v":-0.5},{"v":0.5},{"v":1},{"v":1.5},{"v":2.5},{"v":3},{"v":3.5},{"v":4.5},{"v":5},{"v":5.5},{"v":6.5},{"v":7},{"v":7.5},{"v":8.5},{"v":9},{"v":9.5}],
  "ymajB": [{"v":-20},{"v":-15},{"v":-10},{"v":-5},{"v":0},{"v":5},{"v":10},{"v":15},{"v":20}],
  "yminB": [{"v":-19},{"v":-18},{"v":-17},{"v":-16},{"v":-14},{"v":-13},{"v":-12},{"v":-11},{"v":-9},{"v":-8},{"v":-7},{"v":-6},{"v":-4},{"v":-3},{"v":-2},{"v":-1},{"v":1},{"v":2},{"v":3},{"v":4},{"v":6},{"v":7},{"v":8},{"v":9},{"v":11},{"v":12},{"v":13},{"v":14},{"v":16},{"v":17},{"v":18},{"v":19}]
 },
 "hconcat": [
  {
   "width": 519, "height": 343,
   "layer": [
    {"data": {"name": "xmaj"}, "mark": {"type": "rule", "color": "black", "strokeWidth": 1.5},
     "encoding": {"x": {"field": "t", "type": "quantitative", "title": "t/T", "scale": {"domain": [0, 1], "nice": false}}, "y": {"datum": -2, "type": "quantitative", "title": "Thrust (g)", "scale": {"domain": [-2, 10], "nice": false}}, "y2": {"datum": -1.72}}},
    {"data": {"name": "xmin"}, "mark": {"type": "rule", "color": "black", "strokeWidth": 1.3},
     "encoding": {"x": {"field": "t", "type": "quantitative", "title": "t/T", "scale": {"domain": [0, 1], "nice": false}}, "y": {"datum": -2, "type": "quantitative", "title": "Thrust (g)", "scale": {"domain": [-2, 10], "nice": false}}, "y2": {"datum": -1.84}}},
    {"data": {"name": "ymajA"}, "mark": {"type": "rule", "color": "black", "strokeWidth": 1.5},
     "encoding": {"y": {"field": "v", "type": "quantitative", "title": "Thrust (g)", "scale": {"domain": [-2, 10], "nice": false}}, "x": {"datum": 0, "type": "quantitative", "title": "t/T", "scale": {"domain": [0, 1], "nice": false}}, "x2": {"datum": 0.0173}}},
    {"data": {"name": "yminA"}, "mark": {"type": "rule", "color": "black", "strokeWidth": 1.3},
     "encoding": {"y": {"field": "v", "type": "quantitative", "title": "Thrust (g)", "scale": {"domain": [-2, 10], "nice": false}}, "x": {"datum": 0, "type": "quantitative", "title": "t/T", "scale": {"domain": [0, 1], "nice": false}}, "x2": {"datum": 0.0096}}},
    {"data": {"name": "shafts"}, "mark": {"type": "rule", "color": "#d2d2d2", "strokeWidth": 3.5},
     "encoding": {"x": {"field": "t", "type": "quantitative", "title": "t/T", "scale": {"domain": [0, 1], "nice": false}}, "x2": {"field": "t2"}, "y": {"datum": -1, "type": "quantitative", "title": "Thrust (g)", "scale": {"domain": [-2, 10], "nice": false}}}},
    {"data": {"name": "heads"}, "transform": [{"filter": "datum.dir == 'L'"}], "mark": {"type": "point", "shape": "M-1,0L1,-0.55L1,0.55Z", "filled": true, "color": "#d2d2d2", "size": 576, "opacity": 1},
     "encoding": {"x": {"field": "t", "type": "quantitative", "title": "t/T", "scale": {"domain": [0, 1], "nice": false}}, "y": {"datum": -1, "type": "quantitative", "title": "Thrust (g)", "scale": {"domain": [-2, 10], "nice": false}}}},
    {"data": {"name": "heads"}, "transform": [{"filter": "datum.dir == 'R'"}], "mark": {"type": "point", "shape": "M1,0L-1,-0.55L-1,0.55Z", "filled": true, "color": "#d2d2d2", "size": 576, "opacity": 1},
     "encoding": {"x": {"field": "t", "type": "quantitative", "title": "t/T", "scale": {"domain": [0, 1], "nice": false}}, "y": {"datum": -1, "type": "quantitative", "title": "Thrust (g)", "scale": {"domain": [-2, 10], "nice": false}}}},
    {"data": {"name": "notes"}, "mark": {"type": "text", "font": "Liberation Sans", "fontWeight": "bold", "fontSize": 12.5, "color": "#22b0b0"},
     "encoding": {"x": {"field": "t", "type": "quantitative", "title": "t/T", "scale": {"domain": [0, 1], "nice": false}}, "y": {"datum": -1, "type": "quantitative", "title": "Thrust (g)", "scale": {"domain": [-2, 10], "nice": false}}, "text": {"field": "label"}}},
    {"data": {"values": [{"t": 0.336, "txt": "(a)"}]}, "mark": {"type": "text", "font": "DejaVu Serif", "fontWeight": "bold", "fontSize": 20, "color": "black", "align": "right", "baseline": "middle"},
     "encoding": {"x": {"field": "t", "type": "quantitative", "title": "t/T", "scale": {"domain": [0, 1], "nice": false}}, "y": {"datum": -4.03, "type": "quantitative", "title": "Thrust (g)", "scale": {"domain": [-2, 10], "nice": false}}, "text": {"field": "txt"}}},
    {"data": {"values": [{"t": 0.348, "txt": "Thrust history"}]}, "mark": {"type": "text", "font": "DejaVu Serif", "fontWeight": "normal", "fontSize": 20, "color": "black", "align": "left", "baseline": "middle"},
     "encoding": {"x": {"field": "t", "type": "quantitative", "title": "t/T", "scale": {"domain": [0, 1], "nice": false}}, "y": {"datum": -4.03, "type": "quantitative", "title": "Thrust (g)", "scale": {"domain": [-2, 10], "nice": false}}, "text": {"field": "txt"}}},
    {"data": {"name": "thrust"}, "mark": {"type": "line", "strokeWidth": 1.6},
     "encoding": {
      "x": {"field": "t", "type": "quantitative", "title": "t/T", "scale": {"domain": [0, 1], "nice": false},
            "axis": {"orient": "bottom", "values": [0,0.2,0.4,0.6,0.8,1], "labelExpr": "'' + datum.value", "ticks": false, "grid": false, "labelOverlap": false, "labelPadding": 4, "titlePadding": -2}},
      "y": {"field": "v", "type": "quantitative", "title": "Thrust (g)", "scale": {"domain": [-2, 10], "nice": false},
            "axis": {"orient": "left", "values": [-2,0,2,4,6,8,10], "labelExpr": "'' + datum.value", "ticks": false, "grid": false, "labelOverlap": false, "labelPadding": 8, "titlePadding": 1.5}},
      "stroke": {"field": "s", "type": "nominal",
                 "scale": {"domain": ["Rigid","Thin aluminum plate","L2B1","L2CB1","L3B1","L3CB1"], "range": ["#000000","#1ec81e","#dd1c1c","#dd1c1c","#2b3cf0","#2b3cf0"]},
                 "legend": {"orient": "none", "legendX": 221, "legendY": 8.7, "title": null, "padding": 0, "labelOffset": 37, "rowPadding": 2,
                            "encode": {"symbols": {"update": {
                              "shape": {"signal": "datum.value == 'Rigid' ? 'M-6.8,0L6.8,0M0,-0.6L0.6,0.45L-0.6,0.45Z' : datum.value == 'Thin aluminum plate' ? 'M-6.8,0L6.8,0M0,0.6L0.6,-0.45L-0.6,-0.45Z' : datum.value == 'L2B1' ? 'M-6.8,0L6.8,0M0.6,0A0.6,0.6 0 1,1 -0.6,0A0.6,0.6 0 1,1 0.6,0Z' : datum.value == 'L2CB1' ? 'M-6.8,0L-0.7,0M0.7,0L6.8,0M0.7,0A0.7,0.7 0 1,1 -0.7,0A0.7,0.7 0 1,1 0.7,0Z' : datum.value == 'L3B1' ? 'M-6.8,0L6.8,0M-0.6,-0.6L0.6,-0.6L0.6,0.6L-0.6,0.6Z' : 'M-6.8,0L-0.65,0M0.65,0L6.8,0M-0.65,-0.65L0.65,-0.65L0.65,0.65L-0.65,0.65Z'"},
                              "fill": {"signal": "datum.value == 'Rigid' ? '#000000' : datum.value == 'Thin aluminum plate' ? '#1ec81e' : datum.value == 'L2B1' ? '#dd1c1c' : datum.value == 'L3B1' ? '#2b3cf0' : '#ffffff'"},
                              "stroke": {"signal": "datum.value == 'Rigid' ? '#000000' : datum.value == 'Thin aluminum plate' ? '#1ec81e' : datum.value == 'L2B1' || datum.value == 'L2CB1' ? '#dd1c1c' : '#2b3cf0'"},
                              "strokeWidth": {"value": 1.8}
                            }}}}},
      "strokeDash": {"field": "s", "type": "nominal",
                     "scale": {"domain": ["Rigid","Thin aluminum plate","L2B1","L2CB1","L3B1","L3CB1"], "range": [[1,0],[1,0],[1,0],[9,5],[1,0],[9,5]]}}
     }},
    {"data": {"name": "thrust"},
     "transform": [{"window": [{"op": "row_number", "as": "rn"}, {"op": "first_value", "field": "s", "as": "ser"}], "groupby": ["s"], "sort": [{"field": "t"}]}, {"filter": "datum.rn % 2 == 1 && datum.rn > 1"}],
     "mark": {"type": "point", "filled": false, "size": 36, "strokeWidth": 1.2, "opacity": 1},
     "encoding": {
      "x": {"field": "t", "type": "quantitative", "title": "t/T", "scale": {"domain": [0, 1], "nice": false}},
      "y": {"field": "v", "type": "quantitative", "title": "Thrust (g)", "scale": {"domain": [-2, 10], "nice": false}},
      "color": {"field": "ser", "type": "nominal", "legend": null,
                "scale": {"domain": ["L3CB1","L3B1","L2CB1","L2B1","Thin aluminum plate","Rigid"], "range": ["#2b3cf0","#2b3cf0","#dd1c1c","#dd1c1c","#1ec81e","#000000"]}},
      "fill": {"field": "ser", "type": "nominal", "legend": null,
               "scale": {"domain": ["L3B1","L3CB1","L2B1","L2CB1","Rigid","Thin aluminum plate"], "range": ["#2b3cf0","#ffffff","#dd1c1c","#ffffff","#000000","#1ec81e"]}},
      "shape": {"field": "ser", "type": "nominal", "legend": null,
                "scale": {"domain": ["Thin aluminum plate","Rigid","L3CB1","L3B1","L2CB1","L2B1"], "range": ["triangle-down","triangle-up","square","square","circle","circle"]}}
     }}
   ]
  },
  {
   "width": 519, "height": 343,
   "layer": [
    {"data": {"name": "xmaj"}, "mark": {"type": "rule", "color": "black", "strokeWidth": 1.5},
     "encoding": {"x": {"field": "t", "type": "quantitative", "title": "t/T", "scale": {"domain": [0, 1], "nice": false}}, "y": {"datum": -20, "type": "quantitative", "title": "Sideward force (g)", "scale": {"domain": [-20, 20], "nice": false}}, "y2": {"datum": -19.07}}},
    {"data": {"name": "xmin"}, "mark": {"type": "rule", "color": "black", "strokeWidth": 1.3},
     "encoding": {"x": {"field": "t", "type": "quantitative", "title": "t/T", "scale": {"domain": [0, 1], "nice": false}}, "y": {"datum": -20, "type": "quantitative", "title": "Sideward force (g)", "scale": {"domain": [-20, 20], "nice": false}}, "y2": {"datum": -19.475}}},
    {"data": {"name": "ymajB"}, "mark": {"type": "rule", "color": "black", "strokeWidth": 1.5},
     "encoding": {"y": {"field": "v", "type": "quantitative", "title": "Sideward force (g)", "scale": {"domain": [-20, 20], "nice": false}}, "x": {"datum": 0, "type": "quantitative", "title": "t/T", "scale": {"domain": [0, 1], "nice": false}}, "x2": {"datum": 0.0173}}},
    {"data": {"name": "yminB"}, "mark": {"type": "rule", "color": "black", "strokeWidth": 1.3},
     "encoding": {"y": {"field": "v", "type": "quantitative", "title": "Sideward force (g)", "scale": {"domain": [-20, 20], "nice": false}}, "x": {"datum": 0, "type": "quantitative", "title": "t/T", "scale": {"domain": [0, 1], "nice": false}}, "x2": {"datum": 0.0096}}},
    {"data": {"name": "shafts"}, "mark": {"type": "rule", "color": "#d2d2d2", "strokeWidth": 3.5},
     "encoding": {"x": {"field": "t", "type": "quantitative", "title": "t/T", "scale": {"domain": [0, 1], "nice": false}}, "x2": {"field": "t2"}, "y": {"datum": -16.5, "type": "quantitative", "title": "Sideward force (g)", "scale": {"domain": [-20, 20], "nice": false}}}},
    {"data": {"name": "heads"}, "transform": [{"filter": "datum.dir == 'L'"}], "mark": {"type": "point", "shape": "M-1,0L1,-0.55L1,0.55Z", "filled": true, "color": "#d2d2d2", "size": 576, "opacity": 1},
     "encoding": {"x": {"field": "t", "type": "quantitative", "title": "t/T", "scale": {"domain": [0, 1], "nice": false}}, "y": {"datum": -16.5, "type": "quantitative", "title": "Sideward force (g)", "scale": {"domain": [-20, 20], "nice": false}}}},
    {"data": {"name": "heads"}, "transform": [{"filter": "datum.dir == 'R'"}], "mark": {"type": "point", "shape": "M1,0L-1,-0.55L-1,0.55Z", "filled": true, "color": "#d2d2d2", "size": 576, "opacity": 1},
     "encoding": {"x": {"field": "t", "type": "quantitative", "title": "t/T", "scale": {"domain": [0, 1], "nice": false}}, "y": {"datum": -16.5, "type": "quantitative", "title": "Sideward force (g)", "scale": {"domain": [-20, 20], "nice": false}}}},
    {"data": {"name": "notes"}, "mark": {"type": "text", "font": "Liberation Sans", "fontWeight": "bold", "fontSize": 12.5, "color": "#22b0b0"},
     "encoding": {"x": {"field": "t", "type": "quantitative", "title": "t/T", "scale": {"domain": [0, 1], "nice": false}}, "y": {"datum": -16.5, "type": "quantitative", "title": "Sideward force (g)", "scale": {"domain": [-20, 20], "nice": false}}, "text": {"field": "label"}}},
    {"data": {"values": [{"t": 0.256, "txt": "(b)"}]}, "mark": {"type": "text", "font": "DejaVu Serif", "fontWeight": "bold", "fontSize": 20, "color": "black", "align": "right", "baseline": "middle"},
     "encoding": {"x": {"field": "t", "type": "quantitative", "title": "t/T", "scale": {"domain": [0, 1], "nice": false}}, "y": {"datum": -26.76, "type": "quantitative", "title": "Sideward force (g)", "scale": {"domain": [-20, 20], "nice": false}}, "text": {"field": "txt"}}},
    {"data": {"values": [{"t": 0.269, "txt": "Sideward force history"}]}, "mark": {"type": "text", "font": "DejaVu Serif", "fontWeight": "normal", "fontSize": 20, "color": "black", "align": "left", "baseline": "middle"},
     "encoding": {"x": {"field": "t", "type": "quantitative", "title": "t/T", "scale": {"domain": [0, 1], "nice": false}}, "y": {"datum": -26.76, "type": "quantitative", "title": "Sideward force (g)", "scale": {"domain": [-20, 20], "nice": false}}, "text": {"field": "txt"}}},
    {"data": {"name": "side"}, "mark": {"type": "line", "strokeWidth": 1.6},
     "encoding": {
      "x": {"field": "t", "type": "quantitative", "title": "t/T", "scale": {"domain": [0, 1], "nice": false},
            "axis": {"orient": "bottom", "values": [0,0.2,0.4,0.6,0.8,1], "labelExpr": "'' + datum.value", "ticks": false, "grid": false, "labelOverlap": false, "labelPadding": 4, "titlePadding": -2}},
      "y": {"field": "v", "type": "quantitative", "title": "Sideward force (g)", "scale": {"domain": [-20, 20], "nice": false},
            "axis": {"orient": "left", "values": [-20,-15,-10,-5,0,5,10,15,20], "labelExpr": "'' + datum.value", "ticks": false, "grid": false, "labelOverlap": false, "labelPadding": 8, "titlePadding": 1.5}},
      "stroke": {"field": "s", "type": "nominal",
                 "scale": {"domain": ["Rigid","Thin aluminum plate","L2B1","L2CB1","L3B1","L3CB1"], "range": ["#000000","#1ec81e","#dd1c1c","#dd1c1c","#2b3cf0","#2b3cf0"]},
                 "legend": {"orient": "none", "legendX": 278, "legendY": 10.1, "title": null, "padding": 0, "labelOffset": 39, "rowPadding": 2,
                            "encode": {"symbols": {"update": {
                              "shape": {"signal": "datum.value == 'Rigid' ? 'M-6.8,0L6.8,0M0,-0.6L0.6,0.45L-0.6,0.45Z' : datum.value == 'Thin aluminum plate' ? 'M-6.8,0L6.8,0M0,0.6L0.6,-0.45L-0.6,-0.45Z' : datum.value == 'L2B1' ? 'M-6.8,0L6.8,0M0.6,0A0.6,0.6 0 1,1 -0.6,0A0.6,0.6 0 1,1 0.6,0Z' : datum.value == 'L2CB1' ? 'M-6.8,0L-0.7,0M0.7,0L6.8,0M0.7,0A0.7,0.7 0 1,1 -0.7,0A0.7,0.7 0 1,1 0.7,0Z' : datum.value == 'L3B1' ? 'M-6.8,0L6.8,0M-0.6,-0.6L0.6,-0.6L0.6,0.6L-0.6,0.6Z' : 'M-6.8,0L-0.65,0M0.65,0L6.8,0M-0.65,-0.65L0.65,-0.65L0.65,0.65L-0.65,0.65Z'"},
                              "fill": {"signal": "datum.value == 'Rigid' ? '#000000' : datum.value == 'Thin aluminum plate' ? '#1ec81e' : datum.value == 'L2B1' ? '#dd1c1c' : datum.value == 'L3B1' ? '#2b3cf0' : '#ffffff'"},
                              "stroke": {"signal": "datum.value == 'Rigid' ? '#000000' : datum.value == 'Thin aluminum plate' ? '#1ec81e' : datum.value == 'L2B1' || datum.value == 'L2CB1' ? '#dd1c1c' : '#2b3cf0'"},
                              "strokeWidth": {"value": 1.8}
                            }}}}},
      "strokeDash": {"field": "s", "type": "nominal",
                     "scale": {"domain": ["Rigid","Thin aluminum plate","L2B1","L2CB1","L3B1","L3CB1"], "range": [[1,0],[1,0],[1,0],[9,5],[1,0],[9,5]]}}
     }},
    {"data": {"name": "side"},
     "transform": [{"window": [{"op": "row_number", "as": "rn"}, {"op": "first_value", "field": "s", "as": "ser"}], "groupby": ["s"], "sort": [{"field": "t"}]}, {"filter": "datum.rn % 2 == 1 && datum.rn > 1"}],
     "mark": {"type": "point", "filled": false, "size": 36, "strokeWidth": 1.2, "opacity": 1},
     "encoding": {
      "x": {"field": "t", "type": "quantitative", "title": "t/T", "scale": {"domain": [0, 1], "nice": false}},
      "y": {"field": "v", "type": "quantitative", "title": "Sideward force (g)", "scale": {"domain": [-20, 20], "nice": false}},
      "color": {"field": "ser", "type": "nominal", "legend": null,
                "scale": {"domain": ["L3CB1","L3B1","L2CB1","L2B1","Thin aluminum plate","Rigid"], "range": ["#2b3cf0","#2b3cf0","#dd1c1c","#dd1c1c","#1ec81e","#000000"]}},
      "fill": {"field": "ser", "type": "nominal", "legend": null,
               "scale": {"domain": ["L3B1","L3CB1","L2B1","L2CB1","Rigid","Thin aluminum plate"], "range": ["#2b3cf0","#ffffff","#dd1c1c","#ffffff","#000000","#1ec81e"]}},
      "shape": {"field": "ser", "type": "nominal", "legend": null,
                "scale": {"domain": ["Thin aluminum plate","Rigid","L3CB1","L3B1","L2CB1","L2B1"], "range": ["triangle-down","triangle-up","square","square","circle","circle"]}}
     }}
   ]
  }
 ],
 "resolve": {
  "scale": {"x": "independent", "y": "independent", "stroke": "independent", "strokeDash": "independent", "fill": "independent", "shape": "independent", "color": "independent"},
  "legend": {"stroke": "independent", "strokeDash": "independent", "fill": "independent", "shape": "independent", "color": "independent"}
 },
 "config": {
  "view": {"stroke": null},
  "font": "Liberation Sans",
  "axis": {"domainColor": "black", "domainWidth": 1.8,
           "labelColor": "black", "labelFont": "Liberation Sans", "labelFontSize": 15,
           "titleColor": "black", "titleFont": "Liberation Sans", "titleFontSize": 17, "titleFontWeight": "bold",
           "labelOverlap": false, "labelFlush": false, "labelBound": false},
  "legend": {"labelFont": "Liberation Sans", "labelFontSize": 15, "labelFontWeight": "bold", "labelColor": "black",
             "symbolSize": 100, "symbolStrokeWidth": 1.8, "labelLimit": 300}
 }
}
